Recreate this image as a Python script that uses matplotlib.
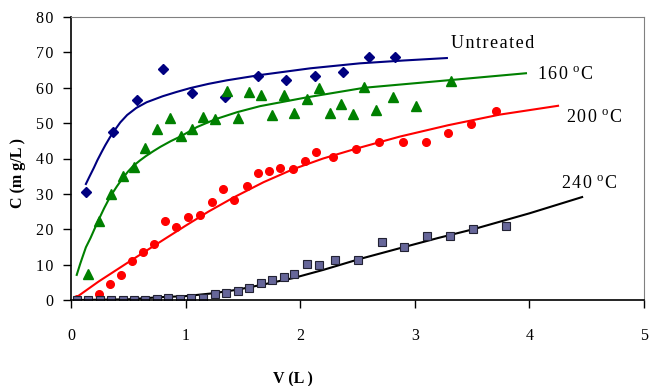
import numpy as np
import matplotlib
matplotlib.use("Agg")
import matplotlib.pyplot as plt

plt.rcParams['font.family'] = ['Liberation Serif', 'DejaVu Serif']

# measured points
untreated_x = [0.13, 0.37, 0.58, 0.80, 1.06, 1.34, 1.63, 1.88, 2.13, 2.37, 2.60, 2.83]
untreated_y = [30.5, 47.5, 56.5, 65.3, 58.5, 57.3, 63.3, 62.1, 63.3, 64.4, 68.6, 68.6]

t160_x = [0.15, 0.24, 0.35, 0.45, 0.55, 0.65, 0.75, 0.86, 0.96, 1.06, 1.15, 1.26, 1.36, 1.46, 1.55,
          1.66, 1.75, 1.86, 1.95, 2.06, 2.16, 2.26, 2.36, 2.46, 2.56, 2.66, 2.81, 3.01, 3.32]
t160_y = [7.3, 22.3, 29.9, 35.0, 37.6, 43.0, 48.2, 51.4, 46.4, 48.2, 51.8, 51.1, 59.0, 51.4, 58.7,
          57.9, 52.3, 57.9, 52.8, 56.8, 59.9, 52.8, 55.4, 52.5, 60.2, 53.7, 57.3, 54.8, 61.9]

t200_x = [0.05, 0.24, 0.34, 0.44, 0.53, 0.63, 0.72, 0.82, 0.92, 1.02, 1.13, 1.23, 1.33, 1.42, 1.54,
          1.63, 1.73, 1.82, 1.94, 2.04, 2.14, 2.29, 2.49, 2.69, 2.90, 3.10, 3.29, 3.49, 3.71]
t200_y = [0.3, 1.7, 4.5, 7.1, 11.0, 13.6, 15.8, 22.3, 20.6, 23.4, 24.0, 27.7, 31.4, 28.2, 32.2,
          35.9, 36.4, 37.3, 37.0, 39.3, 41.8, 40.4, 42.7, 44.6, 44.6, 44.6, 47.2, 49.7, 53.4]

t240_x = [0.05, 0.15, 0.25, 0.35, 0.45, 0.55, 0.65, 0.75, 0.85, 0.95, 1.05, 1.15, 1.26, 1.35, 1.46,
          1.55, 1.66, 1.75, 1.86, 1.95, 2.06, 2.16, 2.30, 2.50, 2.71, 2.91, 3.11, 3.31, 3.51, 3.80]
t240_y = [0.0, 0.0, 0.0, 0.0, 0.0, 0.0, 0.0, 0.2, 0.6, 0.3, 0.6, 0.5, 1.7, 2.0, 2.5,
          3.5, 4.8, 5.7, 6.4, 7.4, 10.2, 9.9, 11.4, 11.4, 16.4, 14.9, 18.1, 18.1, 20.0, 21.0]

# fitted curves
fit_u_x = [0.13, 0.16, 0.20, 0.23, 0.27, 0.30, 0.34, 0.37, 0.43, 0.49, 0.57, 0.66, 0.80, 0.92, 1.04,
           1.20, 1.36, 1.65, 2.09, 2.52, 2.90, 3.28]
fit_u_y = [32.8, 34.8, 37.4, 39.5, 42.0, 43.8, 46.0, 47.5, 50.2, 52.3, 54.3, 55.9, 57.6, 58.8, 59.9,
           61.1, 62.1, 63.6, 65.5, 66.9, 67.7, 68.4]

fit_160_x = [0.05, 0.08, 0.10, 0.13, 0.17, 0.20, 0.24, 0.29, 0.34, 0.40, 0.45, 0.50, 0.54, 0.60, 0.65,
             0.72, 0.78, 0.87, 0.96, 1.10, 1.26, 1.45, 1.65, 2.06, 2.56, 3.32, 3.97]
fit_160_y = [7.1, 10.2, 12.1, 14.9, 17.5, 19.7, 22.6, 26.0, 29.1, 32.1, 34.4, 36.4, 37.8, 39.4, 40.6,
             42.1, 43.3, 44.9, 46.3, 48.9, 51.1, 53.1, 54.8, 57.3, 60.0, 62.2, 64.1]

fit_200_x = [0.04, 0.24, 0.53, 0.82, 1.00, 1.20, 1.42, 1.68, 1.94, 2.20, 2.49, 2.87, 3.29, 3.74, 4.25]
fit_200_y = [0.6, 5.2, 11.3, 17.3, 21.0, 25.0, 29.0, 33.3, 37.0, 40.0, 42.8, 46.2, 49.4, 52.4, 54.9]

fit_240_x = [0.05, 0.50, 0.78, 1.00, 1.24, 1.45, 1.65, 1.94, 2.20, 2.52, 2.91, 3.20, 3.51, 4.00, 4.46]
fit_240_y = [0.0, 0.2, 0.8, 1.1, 1.9, 2.9, 4.2, 6.2, 8.5, 11.6, 15.0, 17.5, 20.0, 24.5, 29.1]

x_ticks = [0, 1, 2, 3, 4, 5]
y_ticks = [0, 10, 20, 30, 40, 50, 60, 70, 80]

HS = '\u200a'  # hair space, for the wide letter spacing


def spaced(s):
    return HS.join(s)


fig = plt.figure(figsize=(6.49, 3.86), dpi=100)
ax = fig.add_axes([71/649, 1-300/386, (644-71)/649, (300-17)/386])

ax.plot(fit_u_x, fit_u_y, color='#000080', lw=1.5)
ax.plot(fit_160_x, fit_160_y, color='#008000', lw=1.5)
ax.plot(fit_200_x, fit_200_y, color='#ff0000', lw=1.5)
ax.plot(fit_240_x, fit_240_y, color='black', lw=1.5)

ax.plot(untreated_x, untreated_y, 'D', color='#000080', ms=5.5, ls='none')
ax.plot(t160_x, t160_y, '^', color='#008000', ms=7, ls='none')
ax.plot(t200_x, t200_y, 'o', color='#ff0000', ms=5.5, ls='none')
ax.plot(t240_x, t240_y, 's', mfc='#666699', mec='#222233', mew=0.8, ms=5.5, ls='none')

ax.text(3.32, 72.6, spaced('Untreated'), fontsize=13, va='center', ha='left')
for lab, tx, ty in [('160', 4.07, 63.6), ('200', 4.32, 51.4), ('240', 4.28, 32.8)]:
    ax.text(tx, ty, spaced(lab) + '$\\;^{\\mathregular{o}}$' + HS + 'C',
            fontsize=13, va='center', ha='left')

ax.set_xlim(0, 5)
ax.set_ylim(0, 80)
ax.set_xticks(x_ticks)
ax.set_xticklabels([spaced(str(v)) for v in x_ticks])
ax.set_yticks(y_ticks)
ax.set_yticklabels([spaced(str(v)) for v in y_ticks])
ax.tick_params(axis='x', direction='out', length=6, width=1, pad=14, labelsize=11.5)
ax.tick_params(axis='y', direction='out', length=6, width=1, pad=7, labelsize=11.5)
for s in ['top', 'right']:
    ax.spines[s].set_color('#808080')
for s in ['left', 'bottom']:
    ax.spines[s].set_color('black')
    ax.spines[s].set_linewidth(1.2)

fig.text(293/649, 1-379/386, 'V (L )', fontsize=11.5, fontweight='bold', ha='center', va='center')
fig.text(18/649, 1-173/386, 'C (m g/L )', fontsize=11.5, fontweight='bold', ha='center', va='center', rotation=90)

fig.savefig('out.png', dpi=100)
